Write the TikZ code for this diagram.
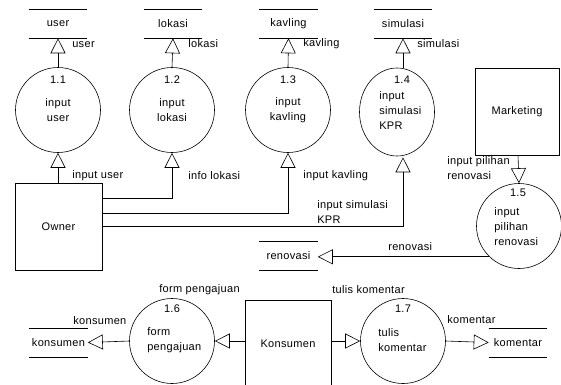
\documentclass[tikz,border=0pt]{standalone}
\usepackage{fontspec}
\setmainfont{Liberation Sans}[LetterSpace=3]
\usetikzlibrary{arrows.meta,positioning,shapes.geometric}
\begin{document}
\begin{tikzpicture}[x=1pt,y=-1pt,font=\fontsize{11}{15}\selectfont,line width=0.6pt,
    proc_node/.style={circle,draw,minimum size=85pt,inner sep=0pt},
    ent_node/.style={rectangle,draw,inner sep=0pt},
    store_node/.style={minimum width=58pt,minimum height=28pt,inner sep=0pt,
        append after command={(\tikzlastnode.north west) edge (\tikzlastnode.north east)
        (\tikzlastnode.south west) edge (\tikzlastnode.south east)}},
    flow/.style={-{Triangle[open,length=15pt,width=15pt]}},
    lbl/.style={inner sep=0pt,anchor=west,align=left}]
    \useasboundingbox (0,0) rectangle (561,384);
    \node[store_node] (s_user) at (58,24) {user};
    \node[store_node] (s_lokasi) at (173,24) {lokasi};
    \node[store_node] (s_kavling) at (288.5,24) {kavling};
    \node[store_node] (s_simulasi) at (403,24) {simulasi};
    \node[store_node] (s_renovasi) at (288.5,255.5) {renovasi};
    \node[store_node] (s_konsumen) at (58.5,342.5) {konsumen};
    \node[store_node] (s_komentar) at (518,342.5) {komentar};
    \node[proc_node] (p11) at (58,110) {};
    \node[proc_node] (p12) at (172,110) {};
    \node[proc_node] (p13) at (288,110) {};
    \node[ellipse,draw,minimum width=75pt,minimum height=88pt,inner sep=0pt] (p14) at (397,112) {};
    \node[proc_node] (p15) at (519,226) {};
    \node[proc_node] (p16) at (172,341) {};
    \node[proc_node] (p17) at (403,341) {};
    \node[ent_node,minimum width=87pt,minimum height=87pt] (owner) at (58.5,226.5) {Owner};
    \node[ent_node,minimum width=84pt,minimum height=87pt] (marketing) at (517,111.5) {Marketing};
    \node[ent_node,minimum width=86pt,minimum height=87pt] (konsumen) at (288,343.5) {Konsumen};
    \node at (58,80) {1.1};
    \node[align=center] at (58,110) {input\\user};
    \node at (172,80) {1.2};
    \node[align=center] at (172,110) {input\\lokasi};
    \node at (288,80) {1.3};
    \node[align=center] at (288,110) {input\\kavling};
    \node at (402,80) {1.4};
    \node[lbl] at (379,111) {input\\simulasi\\KPR};
    \node at (518,193) {1.5};
    \node[lbl] at (494,227) {input\\pilihan\\renovasi};
    \node at (172,309) {1.6};
    \node[lbl] at (147,340) {form\\pengajuan};
    \node at (403,309) {1.7};
    \node[lbl] at (378,340) {tulis\\komentar};
    \draw[flow] (p11.north) -- (s_user.south);
    \draw[flow] (p12.north) -- (s_lokasi.south);
    \draw[flow] (p13.north) -- (s_kavling.south);
    \draw[flow] (p14.north -| s_simulasi.south) -- (s_simulasi.south);
    \draw[flow] (owner.north -| p11.south) -- (p11.south);
    \draw[flow] ([yshift=28.5pt]owner.east) -| (p12.south);
    \draw[flow] ([yshift=13.5pt]owner.east) -| (p13.south);
    \draw[flow] (owner.east) -| ([yshift=-1pt]p14.south -| s_simulasi.south);
    \draw[flow] (marketing.south -| 518,0) -- (p15.north);
    \draw[flow] (p15.226) -- (p15.226 -| s_renovasi.east);
    \draw[flow] (konsumen.west |- p16.east) -- (p16.east);
    \draw[flow] (p16.west) -- (s_konsumen.east);
    \draw[flow] (konsumen.east |- p17.west) -- (p17.west);
    \draw[flow] (p17.east) -- (s_komentar.west);
    \node[lbl] at (72,45) {user};
    \node[lbl] at (188,44) {lokasi};
    \node[lbl] at (303,44) {kavling};
    \node[lbl] at (417,44) {simulasi};
    \node[lbl] at (72,176) {input user};
    \node[lbl] at (188,176) {info lokasi};
    \node[lbl] at (303,176) {input kavling};
    \node[lbl] at (317,212) {input simulasi\\KPR};
    \node[lbl] at (447,168) {input pilihan\\renovasi};
    \node[lbl] at (388,247) {renovasi};
    \node[lbl] at (159,290) {form pengajuan};
    \node[lbl] at (73,321) {konsumen};
    \node[lbl] at (332,290) {tulis komentar};
    \node[lbl] at (447,320) {komentar};
\end{tikzpicture}
\end{document}
